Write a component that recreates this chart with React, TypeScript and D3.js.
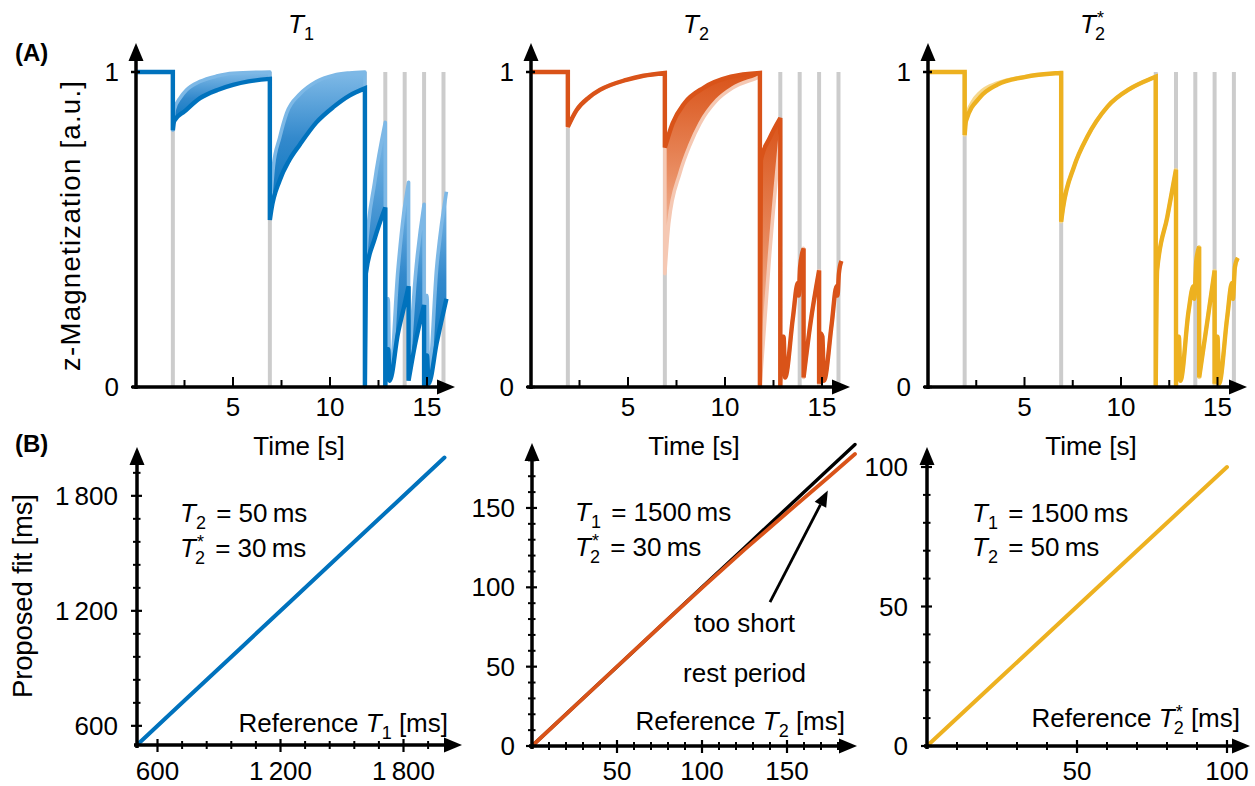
import React from 'react';
import * as d3 from 'd3';

type Pt = [number, number];

const FONT = "'Liberation Sans', Arial, Helvetica, sans-serif";

// ---------------- (A) magnetization evolution ----------------
const pulseTimes = [1.9, 6.9, 11.8, 12.85, 13.85, 14.85, 15.85];
const timeMajorTicks = [5, 10, 15];
const timeMinorTicks = [2.5, 7.5, 12.5];
const magTicks = [0, 1];

// T1 family: darkest (long T1) and lightest (short T1) curves [time s, Mz]
const t1Dark: Pt[] = [
  [0, 1], [1.9, 1],
  [1.9, 0.815], [1.97, 0.845], [2.5, 0.875], [3.3, 0.917], [4.2, 0.943], [5.0, 0.959], [5.8, 0.97], [6.9, 0.978],
  [6.9, 0.53], [6.97, 0.56], [7.4, 0.655], [7.9, 0.72], [8.45, 0.77], [9.3, 0.84], [10.2, 0.89], [11.0, 0.925], [11.8, 0.948],
  [11.8, 0], [11.85, 0.36], [12.3, 0.47], [12.85, 0.57],
  [12.85, 0], [12.93, 0.12], [13.0, 0.12], [13.08, 0.02], [13.5, 0.17], [13.8, 0.25], [14.05, 0.32],
  [14.05, 0.02], [14.4, 0.14], [14.85, 0.26],
  [14.85, 0], [14.93, 0.1], [15.0, 0.1], [15.08, 0.01], [15.5, 0.14], [16.0, 0.28],
];
const t1Light: Pt[] = [
  [0, 1], [1.9, 1],
  [1.9, 0.815], [1.97, 0.88], [2.3, 0.92], [2.6, 0.943], [3.3, 0.97], [4.16, 0.987], [5.0, 0.996], [6.9, 1.0],
  [6.9, 0.55], [7.08, 0.7], [7.4, 0.79], [7.77, 0.87], [8.45, 0.93], [9.3, 0.97], [10.2, 0.99], [11.0, 0.997], [11.8, 1.0],
  [11.8, 0], [11.85, 0.42], [12.3, 0.65], [12.85, 0.84],
  [12.85, 0], [12.93, 0.28], [13.0, 0.28], [13.08, 0.02], [13.5, 0.37], [13.8, 0.55], [14.05, 0.65],
  [14.05, 0.03], [14.4, 0.35], [14.85, 0.58],
  [14.85, 0], [14.93, 0.29], [15.0, 0.29], [15.08, 0.02], [15.5, 0.38], [16.0, 0.62],
];

// T2 family
const t2Dark: Pt[] = [
  [0, 1], [1.9, 1],
  [1.9, 0.826], [2.35, 0.879], [3.0, 0.92], [3.55, 0.943], [4.92, 0.975], [5.8, 0.988], [6.9, 0.997],
  [6.9, 0.76], [7.3, 0.837], [7.9, 0.9], [8.9, 0.95], [10.3, 0.985], [11.8, 0.997],
  [11.8, 0], [11.85, 0.72], [12.3, 0.79], [12.85, 0.854],
  [12.85, 0], [12.93, 0.16], [13.02, 0.16], [13.1, 0.03], [13.5, 0.22], [13.75, 0.33], [13.8, 0.29], [13.87, 0.38], [14.05, 0.44],
  [14.05, 0.03], [14.4, 0.2], [14.85, 0.37],
  [14.85, 0.01], [14.93, 0.17], [15.02, 0.16], [15.1, 0.02], [15.5, 0.2], [15.75, 0.32], [15.8, 0.29], [15.87, 0.36], [16.0, 0.4],
];
const t2Light: Pt[] = [
  [0, 1], [1.9, 1],
  [1.9, 0.826], [2.35, 0.879], [3.0, 0.92], [3.55, 0.943], [4.92, 0.975], [5.8, 0.988], [6.9, 0.997],
  [6.9, 0.36], [7.1, 0.52], [7.68, 0.68], [8.2, 0.77], [8.71, 0.837], [9.57, 0.91], [10.4, 0.95], [11.6, 0.98], [11.8, 0.985],
  [11.8, 0], [11.85, 0.04], [12.3, 0.42], [12.85, 0.8],
  [12.85, 0], [12.93, 0.16], [13.02, 0.16], [13.1, 0.03], [13.5, 0.22], [13.75, 0.33], [13.8, 0.29], [13.87, 0.38], [14.05, 0.44],
  [14.05, 0.03], [14.4, 0.2], [14.85, 0.37],
  [14.85, 0.01], [14.93, 0.17], [15.02, 0.16], [15.1, 0.02], [15.5, 0.2], [15.75, 0.32], [15.8, 0.29], [15.87, 0.36], [16.0, 0.4],
];

// T2* family
const t2sDark: Pt[] = [
  [0, 1], [1.9, 1],
  [1.9, 0.8], [1.97, 0.845], [2.7, 0.92], [3.6, 0.96], [5.0, 0.984], [6.6, 0.996], [6.9, 0.997],
  [6.9, 0.525], [7.0, 0.57], [7.57, 0.7], [8.26, 0.795], [9.3, 0.89], [10.5, 0.948], [11.6, 0.98], [11.8, 0.985],
  [11.8, 0], [11.87, 0.37], [12.4, 0.54], [12.85, 0.69],
  [12.85, 0], [12.92, 0.16], [13.0, 0.16], [13.08, 0.02], [13.5, 0.24], [13.75, 0.32], [13.8, 0.28], [13.9, 0.4], [14.05, 0.445],
  [14.05, 0.03], [14.5, 0.22], [14.85, 0.37],
  [14.85, 0.01], [14.92, 0.16], [15.0, 0.16], [15.08, 0.01], [15.5, 0.22], [15.75, 0.33], [15.8, 0.28], [15.9, 0.38], [16.05, 0.41],
];
const t2sLight: Pt[] = [
  [0, 1], [1.9, 1],
  [1.9, 0.8], [1.97, 0.855], [2.3, 0.905], [2.7, 0.935], [3.6, 0.965], [5.0, 0.985], [6.6, 0.996], [6.9, 0.997],
  [6.9, 0.525], [7.0, 0.57], [7.57, 0.7], [8.26, 0.795], [9.3, 0.89], [10.5, 0.948], [11.6, 0.98], [11.8, 0.985],
  [11.8, 0], [11.87, 0.37], [12.4, 0.54], [12.85, 0.69],
  [12.85, 0], [12.92, 0.16], [13.0, 0.16], [13.08, 0.02], [13.5, 0.24], [13.75, 0.32], [13.8, 0.28], [13.9, 0.4], [14.05, 0.445],
  [14.05, 0.03], [14.5, 0.22], [14.85, 0.37],
  [14.85, 0.01], [14.92, 0.16], [15.0, 0.16], [15.08, 0.01], [15.5, 0.22], [15.75, 0.33], [15.8, 0.28], [15.9, 0.38], [16.05, 0.41],
];

// ---------------- (B) fit vs reference ----------------
const refT1 = [500, 750, 1000, 1250, 1500, 1750, 2000];
const fitT1 = [500, 750, 1000, 1250, 1500, 1750, 2000];
const t1MajorTicks = [600, 1200, 1800];
const t1MinorTicks = [720, 840, 960, 1080, 1320, 1440, 1560, 1680, 1920];

const refT2 = [0, 25, 50, 75, 100, 125, 150, 175, 190];
const fitT2 = [0, 25, 50, 75, 99.6, 123.8, 147, 170, 184];
const t2MajorXTicks = [50, 100, 150];
const t2MajorYTicks = [0, 50, 100, 150];
const t2MinorTicks = [10, 20, 30, 40, 60, 70, 80, 90, 110, 120, 130, 140, 160, 170, 180];

const refT2s = [0, 25, 50, 75, 100];
const fitT2s = [0, 25, 50, 75, 100];
const t2sMajorXTicks = [50, 100];
const t2sMajorYTicks = [0, 50, 100];
const t2sMinorTicks = [10, 20, 30, 40, 60, 70, 80, 90];

const blue = '#0072BD';
const blueLight = '#7db8e6';
const orange = '#D95319';
const orangeLight = '#f5c8b3';
const yellow = '#EDB120';
const yellowLight = '#f6d88e';

const fmtTick = d3.formatLocale({ decimal: '.', thousands: '\u2009', grouping: [3], currency: ['', ''] }).format(',');

function splitRuns(pts: Pt[]): Pt[][] {
  const runs: Pt[][] = [[pts[0]]];
  for (let i = 1; i < pts.length; i++) {
    if (pts[i][0] === pts[i - 1][0]) runs.push([pts[i]]);
    else runs[runs.length - 1].push(pts[i]);
  }
  return runs;
}

function sym(sub: string, star: boolean, rest: string, restDx = 0) {
  const ss = 18;
  if (star) {
    return [
      <tspan key="T" fontStyle="italic">T</tspan>,
      <tspan key="s" fontSize={ss} dy={-9} dx={1}>*</tspan>,
      <tspan key="b" fontSize={ss} dy={16} dx={-9}>{sub}</tspan>,
      <tspan key="r" dy={-7} dx={restDx}>{rest}</tspan>,
    ];
  }
  return [
    <tspan key="T" fontStyle="italic">T</tspan>,
    <tspan key="b" fontSize={ss} dy={7}>{sub}</tspan>,
    <tspan key="r" dy={-7} dx={restDx}>{rest}</tspan>,
  ];
}

interface TopProps {
  x0: number; pxs: number; dark: Pt[]; light: Pt[]; col: string; colLight: string; gradId: string;
  sub: string; star: boolean; showYLabel: boolean;
}

function TopPanel(p: TopProps) {
  const xs = d3.scaleLinear().domain([0, 16]).range([p.x0, p.x0 + 16 * p.pxs]);
  const ys = d3.scaleLinear().domain([0, 1]).range([387, 72]);
  const gen = d3.line<Pt>().x(d => xs(d[0])).y(d => ys(d[1])).curve(d3.curveMonotoneX);
  const dr = splitRuns(p.dark);
  const lr = splitRuns(p.light);
  const joined = (runs: Pt[][]) =>
    runs.map((r, i) => { const s = gen(r) || ''; return i === 0 ? s : 'L' + s.slice(1); }).join('');
  const bands = dr.map((r, i) => (gen(r) || '') + 'L' + (gen([...lr[i]].reverse()) || '').slice(1) + 'Z');
  const ox = p.x0;
  const oy = ys(0);
  const cx = p.x0 + 163;
  const xTip = p.x0 + 319;
  const yTip = 43;
  return (
    <g>
      {pulseTimes.map(t => (
        <line key={t} x1={xs(t)} x2={xs(t)} y1={ys(0)} y2={ys(1)} stroke="#cccccc" strokeWidth={4} />
      ))}
      {bands.map((d, i) => <path key={i} d={d} fill={`url(#${p.gradId})`} stroke="none" />)}
      <path d={joined(lr)} fill="none" stroke={p.colLight} strokeWidth={3.6} strokeLinejoin="round" />
      <path d={joined(dr)} fill="none" stroke={p.col} strokeWidth={4.4} strokeLinejoin="miter" strokeMiterlimit={2} />
      {/* axes */}
      <line x1={ox} x2={ox} y1={oy + 2} y2={yTip + 16} stroke="#000" strokeWidth={3.5} />
      <polygon points={`${ox - 7.5},${yTip + 18} ${ox},${yTip} ${ox + 7.5},${yTip + 18}`} fill="#000" />
      <line x1={ox - 4} x2={xTip - 16} y1={oy} y2={oy} stroke="#000" strokeWidth={3.5} />
      <polygon points={`${xTip - 18},${oy - 7.5} ${xTip},${oy} ${xTip - 18},${oy + 7.5}`} fill="#000" />
      {magTicks.map(v => (
        <g key={v}>
          <line x1={ox - 5} x2={ox + 4} y1={ys(v)} y2={ys(v)} stroke="#000" strokeWidth={2.5} />
          <text x={ox - 17} y={ys(v) + 9} textAnchor="end">{v}</text>
        </g>
      ))}
      {timeMajorTicks.map(v => (
        <g key={v}>
          <line x1={xs(v)} x2={xs(v)} y1={oy} y2={oy - 10} stroke="#000" strokeWidth={2} />
          <text x={xs(v)} y={416} textAnchor="middle">{v}</text>
        </g>
      ))}
      {timeMinorTicks.map(v => (
        <line key={v} x1={xs(v)} x2={xs(v)} y1={oy} y2={oy - 7} stroke="#000" strokeWidth={2} />
      ))}
      <text x={cx} y={455} textAnchor="middle">Time [s]</text>
      <text x={cx - 11} y={33}>{sym(p.sub, p.star, '')}</text>
      {p.showYLabel && (
        <text transform={`translate(80,226) rotate(-90)`} textAnchor="middle" fontSize={27.5} textLength={290} lengthAdjust="spacing">z-Magnetization [a.u.]</text>
      )}
    </g>
  );
}

interface AxesProps {
  xs: d3.ScaleLinear<number, number>; ys: d3.ScaleLinear<number, number>;
  xTip: number; yTip: number; xMajor: number[]; xMinor: number[]; yMajor: number[]; yMinor: number[];
  yLabelGap: number; xLabelY: number;
}

function BotAxes(p: AxesProps) {
  const ox = p.xs.range()[0];
  const oy = p.ys.range()[0];
  return (
    <g>
      <line x1={ox} x2={ox} y1={oy + 3} y2={p.yTip + 16} stroke="#000" strokeWidth={3.5} />
      <polygon points={`${ox - 7.5},${p.yTip + 18} ${ox},${p.yTip} ${ox + 7.5},${p.yTip + 18}`} fill="#000" />
      <line x1={ox - 3} x2={p.xTip - 16} y1={oy} y2={oy} stroke="#000" strokeWidth={3.5} />
      <polygon points={`${p.xTip - 18},${oy - 7.5} ${p.xTip},${oy} ${p.xTip - 18},${oy + 7.5}`} fill="#000" />
      {p.yMajor.map(v => (
        <g key={'ym' + v}>
          <line x1={ox - 6} x2={ox + 5} y1={p.ys(v)} y2={p.ys(v)} stroke="#000" strokeWidth={2.2} />
          <text x={ox - p.yLabelGap} y={p.ys(v) + 9} textAnchor="end">{fmtTick(v)}</text>
        </g>
      ))}
      {p.yMinor.map(v => (
        <line key={'yn' + v} x1={ox - 4} x2={ox + 3.5} y1={p.ys(v)} y2={p.ys(v)} stroke="#000" strokeWidth={2} />
      ))}
      {p.xMajor.map(v => (
        <g key={'xm' + v}>
          <line x1={p.xs(v)} x2={p.xs(v)} y1={oy - 6} y2={oy + 7} stroke="#000" strokeWidth={2.2} />
          <text x={p.xs(v)} y={p.xLabelY} textAnchor="middle">{fmtTick(v)}</text>
        </g>
      ))}
      {p.xMinor.map(v => (
        <line key={'xn' + v} x1={p.xs(v)} x2={p.xs(v)} y1={oy - 4} y2={oy + 4} stroke="#000" strokeWidth={2} />
      ))}
    </g>
  );
}

function FitLine({ xs, ys, ref, fit, col, w }: { xs: any; ys: any; ref: number[]; fit: number[]; col: string; w: number }) {
  const gen = d3.line<number>().x((_, i) => xs(ref[i])).y((_, i) => ys(fit[i]));
  return <path d={gen(fit) || ''} fill="none" stroke={col} strokeWidth={w} strokeLinecap="round" />;
}

export default function App() {
  // (B) scales
  const xsL = d3.scaleLinear().domain([500, 2000]).range([137, 444.5]);
  const ysL = d3.scaleLinear().domain([500, 2000]).range([745, 457.5]);
  const xsM = d3.scaleLinear().domain([0, 190]).range([532, 855]);
  const ysM = d3.scaleLinear().domain([0, 190]).range([746, 444.5]);
  const xsR = d3.scaleLinear().domain([0, 100]).range([927, 1227]);
  const ysR = d3.scaleLinear().domain([0, 100]).range([746, 467]);

  const arrowFrom: Pt = [140, 90.7];
  const arrowTo: Pt = [174, 161];
  const ax1 = xsM(arrowFrom[0]), ay1 = ysM(arrowFrom[1]);
  const ax2 = xsM(arrowTo[0]), ay2 = ysM(arrowTo[1]);
  const ang = Math.atan2(ay2 - ay1, ax2 - ax1);
  const hl = 16, hw = 6.5;
  const bx = ax2 - hl * Math.cos(ang), by = ay2 - hl * Math.sin(ang);
  const headPts = `${ax2},${ay2} ${bx + hw * Math.sin(ang)},${by - hw * Math.cos(ang)} ${bx - hw * Math.sin(ang)},${by + hw * Math.cos(ang)}`;

  return (
    <svg width={1255} height={786} viewBox="0 0 1255 786"
      style={{ position: 'absolute', left: 0, top: 0, background: '#ffffff' }}
      fontFamily={FONT} fontSize={26} fill="#000">
      <defs>
        <linearGradient id="gBlue" x1="0" y1="0" x2="0" y2="1">
          <stop offset="0" stopColor="#80bae7" />
          <stop offset="0.45" stopColor="#3389cc" />
          <stop offset="1" stopColor="#0072BD" />
        </linearGradient>
        <linearGradient id="gOrange" x1="0" y1="0" x2="0" y2="1">
          <stop offset="0" stopColor="#D95319" />
          <stop offset="0.5" stopColor="#e98d62" />
          <stop offset="1" stopColor="#f7d0bd" />
        </linearGradient>
        <linearGradient id="gYellow" x1="0" y1="0" x2="0" y2="1">
          <stop offset="0" stopColor="#f7dc9a" />
          <stop offset="1" stopColor="#EDB120" />
        </linearGradient>
      </defs>

      <text x={15} y={61} fontWeight="bold" fontSize={24}>(A)</text>
      <text x={15} y={452} fontWeight="bold" fontSize={24}>(B)</text>

      <TopPanel x0={136} pxs={19.4} dark={t1Dark} light={t1Light} col={blue} colLight={blueLight} gradId="gBlue" sub="1" star={false} showYLabel />
      <TopPanel x0={531} pxs={19.4} dark={t2Dark} light={t2Light} col={orange} colLight={orangeLight} gradId="gOrange" sub="2" star={false} showYLabel={false} />
      <TopPanel x0={928} pxs={19.3} dark={t2sDark} light={t2sLight} col={yellow} colLight={yellowLight} gradId="gYellow" sub="2" star showYLabel={false} />

      {/* (B) left: T1 */}
      <FitLine xs={xsL} ys={ysL} ref={refT1} fit={refT1} col="#000" w={2.5} />
      <FitLine xs={xsL} ys={ysL} ref={refT1} fit={fitT1} col={blue} w={4} />
      <BotAxes xs={xsL} ys={ysL} xTip={462} yTip={447} xMajor={t1MajorTicks} xMinor={t1MinorTicks}
        yMajor={t1MajorTicks} yMinor={t1MinorTicks} yLabelGap={19} xLabelY={780} />
      <text transform="translate(32,596) rotate(-90)" textAnchor="middle" fontSize={27.5} textLength={204} lengthAdjust="spacing">Proposed fit [ms]</text>
      <text x={180} y={522}>{sym('2', false, ' = 50\u2009ms', 3)}</text>
      <text x={180} y={557}>{sym('2', true, ' = 30\u2009ms', 3)}</text>
      <text x={448} y={732} textAnchor="end">Reference {sym('1', false, ' [ms]')}</text>

      {/* (B) middle: T2 */}
      <FitLine xs={xsM} ys={ysM} ref={refT2} fit={refT2} col="#000" w={3.4} />
      <FitLine xs={xsM} ys={ysM} ref={refT2} fit={fitT2} col={orange} w={3.8} />
      <BotAxes xs={xsM} ys={ysM} xTip={857} yTip={443} xMajor={t2MajorXTicks} xMinor={t2MinorTicks}
        yMajor={t2MajorYTicks} yMinor={t2MinorTicks} yLabelGap={17} xLabelY={780} />
      <text x={575} y={521}>{sym('1', false, ' = 1500\u2009ms', 3)}</text>
      <text x={575} y={556}>{sym('2', true, ' = 30\u2009ms', 3)}</text>
      <text x={845} y={730} textAnchor="end">Reference {sym('2', false, ' [ms]')}</text>
      <line x1={ax1} y1={ay1} x2={bx} y2={by} stroke="#000" strokeWidth={2.8} />
      <polygon points={headPts} fill="#000" />
      <text x={xsM(125)} y={ysM(72)} textAnchor="middle">too short</text>
      <text x={xsM(125)} y={ysM(40.3)} textAnchor="middle">rest period</text>

      {/* (B) right: T2* */}
      <FitLine xs={xsR} ys={ysR} ref={refT2s} fit={refT2s} col="#000" w={2.2} />
      <FitLine xs={xsR} ys={ysR} ref={refT2s} fit={fitT2s} col={yellow} w={4} />
      <BotAxes xs={xsR} ys={ysR} xTip={1250} yTip={447} xMajor={t2sMajorXTicks} xMinor={t2sMinorTicks}
        yMajor={t2sMajorYTicks} yMinor={t2sMinorTicks} yLabelGap={19} xLabelY={780} />
      <text x={972} y={522}>{sym('1', false, ' = 1500\u2009ms', 3)}</text>
      <text x={972} y={556}>{sym('2', false, ' = 50\u2009ms', 3)}</text>
      <text x={1240} y={727} textAnchor="end">Reference {sym('2', true, ' [ms]')}</text>
    </svg>
  );
}
